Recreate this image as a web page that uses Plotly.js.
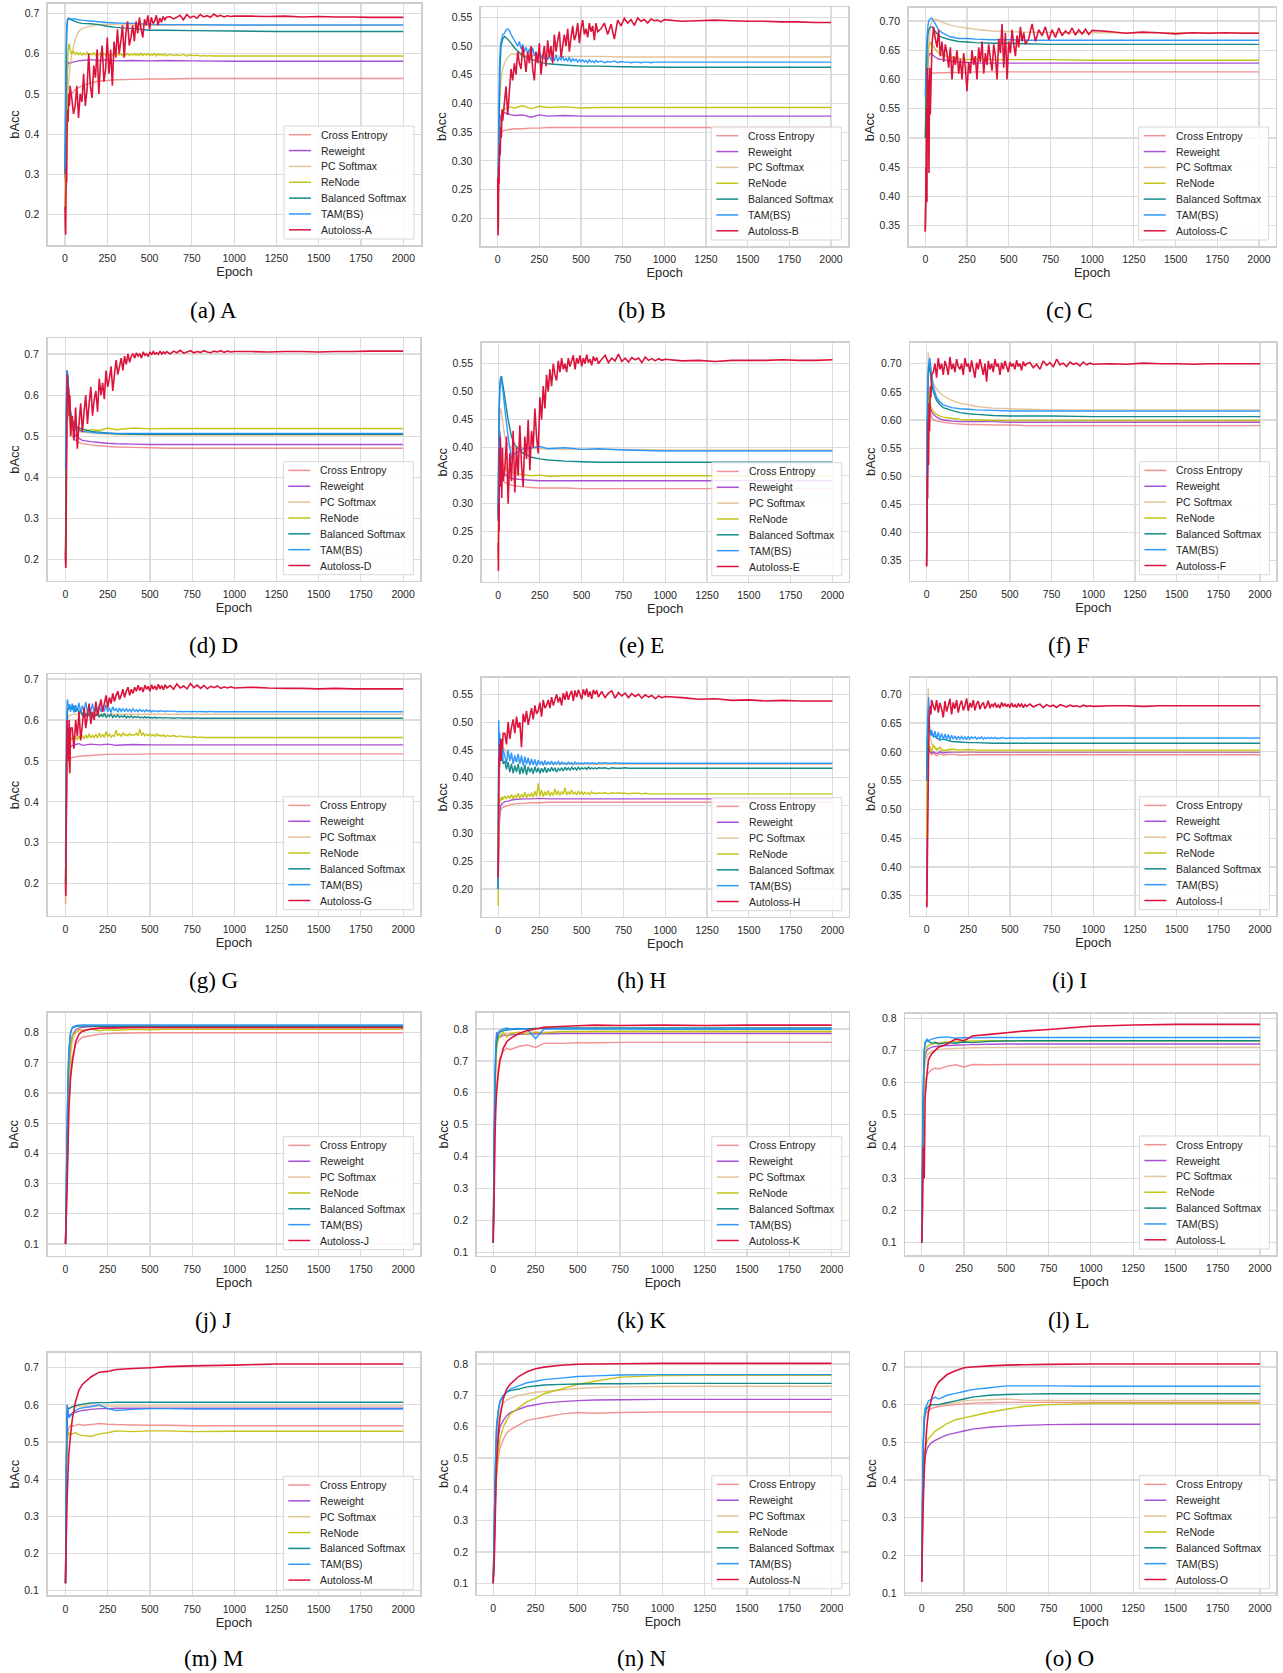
<!DOCTYPE html>
<html><head><meta charset="utf-8">
<script src="https://cdn.plot.ly/plotly-3.0.1.min.js"></script>
<style>html,body{margin:0;padding:0;background:#fff;}#chart{width:1283px;height:1673px;}</style>
</head><body><div id="chart"></div>
<script>
// ---------------- DATA ----------------
const epochs = [0,5,10,15,20,30,40,60,80,100,150,200,250,300,400,500,600,750,1000,1250,1500,2000];
const epochsDense = [0,2,4,6,8,10,12,15,18,22,26,30,
 40,50,60,70,80,90,100,110,120,130,140,150,160,170,180,190,200,210,220,230,240,250,260,270,280,290,300,
 310,320,330,340,350,360,370,380,390,400,410,420,430,440,450,460,470,480,490,500,510,520,530,540,550,560,570,580,590,600,
 620,640,660,680,700,720,740,760,780,800,820,840,860,880,900,920,940,960,980,1000,
 1100,1200,1300,1400,1500,1600,1700,1800,1900,2000];
const seriesNames = ['Cross Entropy','Reweight','PC Softmax','ReNode','Balanced Softmax','TAM(BS)'];
const panelLetters = ['A','B','C','D','E','F','G','H','I','J','K','L','M','N','O'];
const captions = ['(a) A','(b) B','(c) C','(d) D','(e) E','(f) F','(g) G','(h) H','(i) I','(j) J','(k) K','(l) L','(m) M','(n) N','(o) O'];
const xTickVals = [0,250,500,750,1000,1250,1500,1750,2000];
const yTicks2to7 = [0.2,0.3,0.4,0.5,0.6,0.7];
const yTicks20to55 = [0.20,0.25,0.30,0.35,0.40,0.45,0.50,0.55];
const yTicks35to70 = [0.35,0.40,0.45,0.50,0.55,0.60,0.65,0.70];
const yTicks1to8 = [0.1,0.2,0.3,0.4,0.5,0.6,0.7,0.8];
const yTicks1to7 = [0.1,0.2,0.3,0.4,0.5,0.6,0.7];

// Panel A
const A_ce = [0.22,0.28,0.38,0.44,0.47,0.49,0.50,0.51,0.515,0.52,0.527,0.532,0.533,0.535,0.536,0.537,0.537,0.538,0.538,0.538,0.538,0.538];
const A_rw = [0.29,0.40,0.52,0.57,0.578,0.575,0.578,0.58,0.582,0.583,0.585,0.583,0.584,0.582,0.583,0.582,0.583,0.582,0.581,0.581,0.581,0.581];
const A_pc = [0.28,0.35,0.42,0.48,0.52,0.57,0.60,0.635,0.655,0.662,0.668,0.672,0.673,0.672,0.671,0.67,0.67,0.67,0.67,0.67,0.67,0.67];
const A_rn = [0.22,0.25,0.30,0.35,0.42,0.45,0.52,0.58,0.60,0.62,0.625,0.61,
 0.60,0.605,0.598,0.603,0.597,0.602,0.596,0.601,0.597,0.603,0.596,0.60,0.597,0.602,0.596,0.60,0.597,0.601,0.595,0.60,0.596,0.602,0.595,0.599,0.596,0.601,0.595,
 0.60,0.596,0.599,0.595,0.601,0.596,0.60,0.595,0.599,0.596,0.60,0.595,0.599,0.596,0.601,0.595,0.599,0.596,0.60,0.595,0.598,0.596,0.60,0.594,0.599,0.596,0.598,0.595,0.599,0.595,
 0.598,0.595,0.597,0.595,0.598,0.594,0.597,0.595,0.596,0.594,0.595,0.594,0.595,0.594,0.594,0.594,0.594,0.594,0.594,0.594,
 0.594,0.594,0.594,0.594,0.594,0.594,0.594,0.594,0.594,0.594];
const A_bs = [0.30,0.50,0.65,0.685,0.688,0.686,0.683,0.68,0.677,0.675,0.674,0.672,0.668,0.665,0.662,0.658,0.658,0.657,0.656,0.655,0.655,0.655];
const A_tam = [0.31,0.55,0.67,0.682,0.685,0.686,0.686,0.686,0.684,0.683,0.681,0.679,0.677,0.676,0.675,0.673,0.672,0.672,0.671,0.671,0.671,0.671];
const A_al = [0.22,0.17,0.15,0.25,0.32,0.28,0.40,0.46,0.43,0.50,0.47,0.52,
 0.49,0.45,0.47,0.52,0.44,0.50,0.48,
 0.55,0.47,0.51,0.60,0.52,0.49,0.57,0.54,0.61,0.50,
 0.58,0.62,0.53,0.56,0.64,0.55,0.61,0.52,0.63,0.59,
 0.66,0.60,0.63,0.67,0.59,0.65,0.68,0.62,0.64,0.67,
 0.63,0.68,0.65,0.69,0.66,0.64,0.685,0.67,0.695,0.66,
 0.69,0.675,0.68,0.695,0.67,0.688,0.678,0.692,0.684,0.69,
 0.692,0.686,0.69,0.695,0.684,0.697,0.689,0.693,0.688,0.697,0.691,0.694,0.69,0.698,0.692,0.695,0.691,0.694,0.692,0.693,
 0.693,0.692,0.693,0.691,0.692,0.691,0.691,0.690,0.690,0.690];

// Panel B
const B_ce = [0.18,0.25,0.32,0.345,0.35,0.352,0.353,0.354,0.355,0.356,0.356,0.357,0.357,0.358,0.358,0.358,0.358,0.358,0.358,0.358,0.358,0.358];
const B_rw = [0.20,0.28,0.34,0.37,0.38,0.383,0.384,0.382,0.38,0.379,0.38,0.376,0.38,0.378,0.379,0.378,0.378,0.378,0.378,0.378,0.378,0.378];
const B_pc = [0.20,0.30,0.38,0.42,0.44,0.46,0.47,0.48,0.486,0.486,0.484,0.483,0.483,0.483,0.482,0.482,0.482,0.481,0.481,0.481,0.481,0.481];
const B_rn = [0.19,0.26,0.30,0.33,0.36,0.385,0.39,0.392,0.394,0.392,0.396,0.391,0.395,0.393,0.394,0.392,0.393,0.393,0.393,0.393,0.393,0.393];
const B_bs = [0.20,0.30,0.40,0.47,0.50,0.512,0.517,0.512,0.505,0.497,0.483,0.477,0.472,0.469,0.467,0.465,0.465,0.464,0.463,0.463,0.463,0.463];
const B_tam = [0.20,0.25,0.30,0.36,0.42,0.46,0.48,0.495,0.505,0.51,0.515,0.52,
 0.522,0.528,0.53,0.527,0.52,0.515,0.51,0.505,0.50,0.508,0.495,0.503,0.49,0.498,0.487,0.495,0.485,0.497,0.483,0.49,0.48,0.488,0.478,0.486,0.477,0.484,0.476,
 0.483,0.475,0.481,0.474,0.485,0.473,0.48,0.476,0.482,0.474,0.479,0.473,0.481,0.472,0.478,0.474,0.477,0.472,0.476,0.473,0.476,0.472,0.475,0.471,0.476,0.472,0.474,0.471,0.475,0.472,
 0.474,0.471,0.473,0.472,0.474,0.471,0.473,0.472,0.472,0.471,0.472,0.472,0.471,0.472,0.472,0.471,0.472,0.472,0.472,0.472,
 0.472,0.472,0.472,0.472,0.472,0.472,0.472,0.472,0.472,0.472];
const B_al = [0.27,0.17,0.19,0.29,0.26,0.30,0.33,0.31,0.36,0.34,0.39,0.37,
 0.40,0.43,0.38,0.42,0.46,0.44,0.47,
 0.45,0.49,0.47,0.46,0.50,0.48,0.455,0.49,0.47,0.50,
 0.46,0.44,0.49,0.47,0.505,0.45,0.48,0.50,0.465,0.51,
 0.48,0.50,0.47,0.52,0.49,0.51,0.525,0.48,0.50,0.52,
 0.50,0.53,0.49,0.515,0.535,0.51,0.52,0.54,0.505,0.53,
 0.545,0.52,0.53,0.515,0.54,0.525,0.535,0.51,0.54,0.525,
 0.53,0.54,0.52,0.538,0.512,0.545,0.535,0.548,0.54,0.546,0.536,0.549,0.543,0.546,0.54,0.547,0.544,0.545,0.542,0.546,
 0.543,0.544,0.545,0.544,0.543,0.543,0.542,0.542,0.541,0.541];

// Panel C
const C_ce = [0.34,0.45,0.55,0.59,0.605,0.61,0.611,0.611,0.612,0.611,0.612,0.612,0.612,0.613,0.613,0.613,0.613,0.613,0.613,0.613,0.613,0.613];
const C_rw = [0.34,0.45,0.56,0.62,0.64,0.645,0.643,0.638,0.635,0.634,0.632,0.63,0.629,0.628,0.628,0.628,0.628,0.628,0.628,0.628,0.628,0.628];
const C_pc = [0.34,0.45,0.55,0.62,0.66,0.69,0.70,0.703,0.701,0.698,0.693,0.69,0.688,0.686,0.683,0.682,0.681,0.68,0.68,0.68,0.68,0.68];
const C_rn = [0.50,0.55,0.60,0.64,0.655,0.663,0.66,0.652,0.645,0.642,0.638,0.636,0.634,0.635,0.634,0.634,0.634,0.634,0.633,0.633,0.633,0.633];
const C_bs = [0.50,0.60,0.65,0.675,0.685,0.69,0.69,0.682,0.675,0.672,0.668,0.665,0.664,0.663,0.662,0.662,0.661,0.66,0.66,0.66,0.66,0.66];
const C_tam = [0.57,0.64,0.67,0.69,0.70,0.704,0.705,0.695,0.685,0.68,0.673,0.67,0.67,0.669,0.668,0.668,0.667,0.667,0.667,0.667,0.667,0.667];
const C_al = [0.34,0.38,0.45,0.40,0.55,0.39,0.62,0.50,0.60,0.44,0.62,0.54,
 0.66,0.69,0.67,0.655,0.685,0.64,0.665,
 0.63,0.66,0.645,0.62,0.655,0.60,0.64,0.625,0.65,0.61,
 0.635,0.60,0.645,0.62,0.58,0.63,0.61,0.65,0.625,0.64,
 0.60,0.655,0.63,0.665,0.61,0.645,0.625,0.66,0.635,0.615,
 0.66,0.64,0.60,0.67,0.645,0.695,0.62,0.68,0.60,0.665,
 0.645,0.685,0.66,0.64,0.675,0.655,0.69,0.665,0.68,0.66,
 0.67,0.695,0.665,0.685,0.675,0.69,0.668,0.685,0.672,0.688,0.675,0.683,0.678,0.688,0.676,0.685,0.678,0.686,0.677,0.684,
 0.682,0.679,0.681,0.68,0.678,0.68,0.679,0.68,0.679,0.679];

// Panel D
const D_ce = [0.18,0.42,0.66,0.60,0.55,0.52,0.50,0.49,0.485,0.482,0.479,0.477,0.475,0.474,0.473,0.472,0.471,0.471,0.471,0.471,0.471,0.471];
const D_rw = [0.19,0.45,0.66,0.62,0.58,0.54,0.52,0.50,0.495,0.49,0.487,0.485,0.483,0.482,0.481,0.48,0.48,0.48,0.48,0.48,0.48,0.48];
const D_pc = [0.20,0.45,0.64,0.62,0.58,0.54,0.52,0.515,0.512,0.51,0.508,0.506,0.505,0.504,0.504,0.503,0.503,0.503,0.503,0.503,0.503,0.503];
const D_rn = [0.22,0.50,0.64,0.60,0.56,0.53,0.52,0.515,0.518,0.512,0.516,0.514,0.52,0.516,0.52,0.518,0.519,0.519,0.519,0.519,0.519,0.519];
const D_bs = [0.20,0.55,0.66,0.63,0.60,0.56,0.54,0.525,0.52,0.518,0.512,0.51,0.508,0.506,0.505,0.505,0.505,0.505,0.505,0.505,0.505,0.505];
const D_tam = [0.42,0.60,0.66,0.64,0.60,0.56,0.535,0.52,0.515,0.512,0.51,0.508,0.507,0.507,0.507,0.507,0.507,0.507,0.507,0.507,0.507,0.507];
const D_al = [0.22,0.18,0.30,0.42,0.50,0.60,0.65,0.58,0.62,0.55,0.60,0.50,
 0.55,0.49,0.57,0.47,0.53,0.58,0.51,
 0.56,0.60,0.53,0.58,0.62,0.55,0.59,0.61,0.56,0.64,
 0.60,0.63,0.59,0.66,0.62,0.64,0.67,0.61,0.65,0.685,
 0.65,0.67,0.69,0.66,0.695,0.675,0.70,0.68,0.695,0.70,
 0.69,0.703,0.695,0.70,0.69,0.705,0.697,0.70,0.694,0.705,
 0.698,0.706,0.70,0.703,0.699,0.707,0.70,0.705,0.701,0.706,
 0.70,0.707,0.703,0.709,0.702,0.705,0.708,0.703,0.706,0.704,0.708,0.705,0.703,0.707,0.705,0.708,0.704,0.707,0.705,0.706,
 0.706,0.705,0.706,0.706,0.705,0.706,0.706,0.707,0.707,0.707];

// Panel E
const E_ce = [0.27,0.35,0.42,0.40,0.37,0.345,0.338,0.335,0.333,0.332,0.33,0.329,0.328,0.328,0.328,0.327,0.327,0.327,0.327,0.327,0.327,0.327];
const E_rw = [0.27,0.36,0.43,0.41,0.38,0.36,0.352,0.348,0.345,0.344,0.343,0.342,0.341,0.341,0.341,0.341,0.341,0.341,0.341,0.341,0.341,0.341];
const E_pc = [0.27,0.40,0.46,0.47,0.465,0.44,0.42,0.405,0.40,0.40,0.40,0.399,0.398,0.398,0.397,0.397,0.397,0.397,0.396,0.396,0.396,0.396];
const E_rn = [0.20,0.35,0.40,0.39,0.38,0.37,0.365,0.36,0.357,0.355,0.352,0.35,0.351,0.349,0.35,0.35,0.35,0.35,0.35,0.35,0.35,0.35];
const E_bs = [0.28,0.45,0.51,0.525,0.528,0.51,0.49,0.45,0.42,0.405,0.39,0.383,0.38,0.378,0.376,0.375,0.374,0.374,0.374,0.374,0.374,0.374];
const E_tam = [0.27,0.45,0.50,0.525,0.52,0.50,0.47,0.42,0.38,0.39,0.398,0.40,0.402,0.398,0.40,0.397,0.398,0.396,0.394,0.394,0.394,0.394];
const E_al = [0.23,0.18,0.30,0.25,0.40,0.35,0.42,0.33,0.38,0.31,0.40,0.34,
 0.36,0.42,0.30,0.39,0.34,0.43,0.32,
 0.40,0.35,0.44,0.37,0.33,0.42,0.38,0.45,0.36,0.43,
 0.40,0.47,0.42,0.39,0.49,0.45,0.51,0.47,0.53,0.50,
 0.54,0.51,0.55,0.53,0.52,0.555,0.535,0.56,0.54,0.55,
 0.535,0.56,0.545,0.555,0.565,0.54,0.56,0.55,0.565,0.545,
 0.56,0.55,0.566,0.552,0.558,0.547,0.563,0.555,0.561,0.55,
 0.558,0.565,0.552,0.56,0.555,0.567,0.554,0.56,0.553,0.561,0.557,0.56,0.552,0.562,0.556,0.559,0.555,0.559,0.556,0.558,
 0.555,0.556,0.554,0.556,0.556,0.556,0.557,0.556,0.556,0.557];

// Panel F
const F_ce = [0.34,0.50,0.60,0.62,0.615,0.605,0.60,0.598,0.597,0.596,0.594,0.593,0.592,0.592,0.591,0.591,0.59,0.59,0.59,0.59,0.59,0.59];
const F_rw = [0.34,0.52,0.62,0.63,0.625,0.615,0.61,0.605,0.602,0.60,0.598,0.597,0.597,0.597,0.597,0.596,0.596,0.596,0.596,0.596,0.596,0.596];
const F_pc = [0.34,0.60,0.72,0.70,0.69,0.675,0.665,0.655,0.648,0.643,0.635,0.63,0.627,0.624,0.621,0.62,0.619,0.618,0.618,0.618,0.618,0.618];
const F_rn = [0.50,0.60,0.65,0.64,0.63,0.62,0.615,0.61,0.607,0.605,0.603,0.601,0.60,0.60,0.599,0.599,0.599,0.599,0.599,0.599,0.599,0.599];
const F_bs = [0.35,0.60,0.68,0.70,0.69,0.665,0.65,0.635,0.627,0.622,0.617,0.613,0.611,0.61,0.608,0.607,0.607,0.607,0.606,0.606,0.606,0.606];
const F_tam = [0.50,0.65,0.69,0.705,0.71,0.68,0.66,0.64,0.632,0.627,0.622,0.62,0.619,0.618,0.617,0.616,0.616,0.616,0.616,0.616,0.616,0.616];
const F_al = [0.34,0.40,0.50,0.46,0.55,0.60,0.52,0.63,0.58,0.66,0.64,0.68,
 0.685,0.70,0.675,0.71,0.69,0.70,0.68,
 0.705,0.695,0.68,0.712,0.69,0.70,0.685,0.708,0.695,0.69,
 0.70,0.68,0.71,0.695,0.70,0.685,0.706,0.69,0.675,0.702,
 0.69,0.708,0.695,0.68,0.70,0.668,0.705,0.69,0.70,0.685,
 0.708,0.695,0.70,0.68,0.702,0.69,0.705,0.695,0.685,0.703,
 0.695,0.70,0.69,0.706,0.695,0.70,0.688,0.704,0.696,0.70,
 0.702,0.693,0.699,0.69,0.705,0.697,0.702,0.694,0.708,0.698,0.701,0.695,0.703,0.699,0.701,0.696,0.703,0.698,0.701,0.699,
 0.70,0.699,0.701,0.70,0.70,0.699,0.70,0.70,0.70,0.70];

// Panel G
const G_ce = [0.15,0.35,0.46,0.49,0.50,0.505,0.508,0.51,0.511,0.512,0.513,0.515,0.516,0.516,0.516,0.517,0.517,0.517,0.517,0.517,0.517,0.517];
const G_rw = [0.20,0.40,0.50,0.525,0.53,0.535,0.537,0.54,0.542,0.538,0.541,0.539,0.541,0.538,0.54,0.539,0.539,0.539,0.539,0.539,0.539,0.539];
const G_pc = [0.15,0.40,0.55,0.60,0.61,0.612,0.613,0.614,0.615,0.615,0.614,0.614,0.614,0.614,0.614,0.614,0.614,0.614,0.614,0.614,0.614,0.614];
const G_rn = [0.20,0.28,0.35,0.42,0.48,0.52,0.54,0.545,0.55,0.548,0.553,0.55,
 0.556,0.55,0.558,0.552,0.56,0.553,0.562,0.554,0.563,0.555,0.566,0.556,0.562,0.557,0.565,0.556,0.568,0.558,0.565,0.557,0.572,0.559,0.566,0.558,0.563,0.56,0.575,
 0.561,0.566,0.56,0.568,0.562,0.565,0.561,0.567,0.562,0.564,0.563,0.567,0.561,0.578,0.562,0.568,0.561,0.565,0.562,0.566,0.561,0.564,0.56,0.566,0.561,0.563,0.56,0.564,0.559,0.562,
 0.56,0.562,0.559,0.561,0.558,0.56,0.557,0.559,0.557,0.558,0.557,0.557,0.557,0.557,0.557,0.557,0.557,0.557,0.557,0.557,
 0.557,0.557,0.557,0.557,0.557,0.557,0.557,0.557,0.557,0.557];
const G_bs = [0.20,0.30,0.40,0.50,0.56,0.60,0.62,0.63,0.625,0.635,0.628,0.632,
 0.625,0.635,0.62,0.63,0.615,0.625,0.61,0.622,0.608,0.618,0.61,0.62,0.607,0.616,0.609,0.618,0.606,0.614,0.607,0.616,0.606,0.612,0.608,0.615,0.606,0.611,0.607,
 0.612,0.606,0.61,0.607,0.611,0.605,0.609,0.606,0.61,0.605,0.608,0.606,0.609,0.605,0.607,0.605,0.608,0.605,0.607,0.605,0.606,0.605,0.607,0.604,0.606,0.605,0.606,0.604,0.606,0.605,
 0.605,0.604,0.605,0.605,0.604,0.605,0.604,0.604,0.605,0.604,0.604,0.604,0.604,0.604,0.604,0.604,0.604,0.604,0.604,0.604,
 0.604,0.604,0.604,0.604,0.604,0.604,0.604,0.604,0.604,0.604];
const G_tam = [0.25,0.40,0.50,0.58,0.62,0.645,0.65,0.635,0.64,0.625,0.638,0.62,
 0.64,0.618,0.636,0.622,0.642,0.617,0.635,0.62,0.644,0.618,0.632,0.621,0.64,0.617,0.635,0.622,0.638,0.619,0.633,0.621,0.637,0.62,0.63,0.618,0.632,0.622,0.628,
 0.619,0.629,0.621,0.627,0.62,0.628,0.621,0.626,0.62,0.627,0.621,0.625,0.62,0.626,0.621,0.624,0.62,0.625,0.621,0.624,0.62,0.623,0.621,0.622,0.62,0.623,0.621,0.622,0.62,0.622,
 0.621,0.622,0.62,0.621,0.62,0.621,0.62,0.621,0.62,0.621,0.62,0.62,0.621,0.62,0.62,0.62,0.62,0.62,0.62,0.62,
 0.62,0.62,0.62,0.62,0.62,0.62,0.62,0.62,0.62,0.62];
const G_al = [0.20,0.17,0.30,0.45,0.55,0.60,0.52,0.58,0.50,0.60,0.47,0.58,
 0.58,0.53,0.60,0.56,0.62,0.55,0.59,
 0.63,0.58,0.61,0.64,0.59,0.62,0.60,0.645,0.61,0.63,
 0.65,0.62,0.64,0.66,0.63,0.655,0.64,0.665,0.645,0.66,
 0.67,0.65,0.66,0.675,0.655,0.67,0.68,0.66,0.675,0.665,
 0.68,0.67,0.685,0.672,0.68,0.668,0.685,0.675,0.682,0.67,
 0.686,0.675,0.683,0.673,0.687,0.676,0.684,0.674,0.686,0.678,
 0.684,0.675,0.688,0.678,0.683,0.676,0.689,0.679,0.685,0.677,0.684,0.676,0.682,0.679,0.683,0.677,0.681,0.678,0.681,0.678,
 0.68,0.678,0.677,0.677,0.676,0.677,0.676,0.676,0.676,0.676];

// Panel H
const H_ce = [0.20,0.30,0.33,0.34,0.345,0.347,0.348,0.35,0.352,0.353,0.354,0.355,0.355,0.356,0.356,0.356,0.356,0.356,0.356,0.356,0.356,0.356];
const H_rw = [0.20,0.30,0.34,0.35,0.352,0.355,0.357,0.358,0.36,0.361,0.362,0.362,0.363,0.362,0.362,0.362,0.362,0.362,0.362,0.362,0.362,0.362];
const H_pc = [0.20,0.35,0.42,0.45,0.46,0.455,0.45,0.44,0.435,0.43,0.43,0.427,0.425,0.425,0.424,0.424,0.424,0.424,0.424,0.424,0.424,0.424];
const H_rn = [0.17,0.25,0.32,0.35,0.36,0.355,0.362,0.358,0.365,0.36,0.366,0.361,
 0.367,0.362,0.368,0.363,0.37,0.362,0.369,0.364,0.372,0.363,0.37,0.365,0.374,0.364,0.371,0.366,0.373,0.365,0.376,0.366,0.39,0.367,0.378,0.366,0.375,0.368,0.377,
 0.367,0.374,0.368,0.38,0.369,0.376,0.368,0.375,0.37,0.382,0.369,0.375,0.37,0.378,0.37,0.374,0.369,0.376,0.371,0.375,0.37,0.374,0.371,0.373,0.37,0.375,0.371,0.373,0.371,0.373,
 0.372,0.373,0.371,0.373,0.372,0.373,0.372,0.372,0.371,0.372,0.372,0.372,0.371,0.372,0.371,0.371,0.371,0.371,0.371,0.371,
 0.371,0.371,0.371,0.371,0.371,0.371,0.371,0.371,0.371,0.371];
const H_bs = [0.20,0.35,0.46,0.48,0.47,0.46,0.45,0.44,0.445,0.43,0.44,0.425,
 0.43,0.415,0.428,0.41,0.425,0.408,0.422,0.41,0.425,0.406,0.42,0.408,0.423,0.405,0.42,0.41,0.418,0.407,0.42,0.41,0.418,0.408,0.417,0.41,0.419,0.409,0.417,
 0.411,0.419,0.412,0.418,0.41,0.417,0.413,0.418,0.412,0.419,0.414,0.418,0.413,0.419,0.415,0.418,0.414,0.419,0.415,0.418,0.416,0.418,0.415,0.419,0.416,0.418,0.416,0.418,0.416,0.418,
 0.417,0.418,0.416,0.418,0.417,0.417,0.417,0.418,0.417,0.417,0.417,0.417,0.417,0.417,0.417,0.417,0.417,0.417,0.417,0.417,
 0.417,0.417,0.417,0.417,0.417,0.417,0.417,0.417,0.417,0.417];
const H_tam = [0.20,0.35,0.504,0.47,0.45,0.48,0.44,0.46,0.435,0.455,0.43,0.45,
 0.44,0.425,0.45,0.43,0.445,0.425,0.44,0.428,0.443,0.425,0.44,0.422,0.438,0.424,0.436,0.422,0.434,0.423,0.433,0.421,0.432,0.424,0.43,0.422,0.431,0.423,0.429,
 0.424,0.43,0.423,0.428,0.425,0.429,0.424,0.428,0.425,0.427,0.424,0.428,0.425,0.427,0.424,0.428,0.425,0.427,0.425,0.427,0.425,0.427,0.426,0.427,0.425,0.427,0.426,0.426,0.425,0.427,
 0.426,0.427,0.426,0.426,0.427,0.426,0.426,0.426,0.426,0.426,0.426,0.426,0.426,0.426,0.426,0.426,0.426,0.426,0.426,0.426,
 0.426,0.426,0.426,0.426,0.426,0.426,0.426,0.426,0.426,0.426];
const H_al = [0.22,0.30,0.38,0.44,0.42,0.46,0.44,0.47,0.43,0.47,0.45,0.48,
 0.48,0.46,0.50,0.47,0.49,0.505,0.48,
 0.51,0.49,0.50,0.455,0.515,0.50,0.52,0.495,0.51,0.525,
 0.505,0.53,0.515,0.52,0.535,0.51,0.54,0.525,0.53,0.54,
 0.525,0.545,0.53,0.54,0.55,0.535,0.545,0.53,0.552,0.54,
 0.555,0.54,0.55,0.556,0.538,0.557,0.545,0.558,0.55,0.541,
 0.559,0.548,0.56,0.545,0.555,0.542,0.558,0.55,0.557,0.545,
 0.555,0.544,0.552,0.556,0.543,0.553,0.547,0.552,0.544,0.551,0.546,0.55,0.543,0.549,0.545,0.548,0.542,0.547,0.544,0.546,
 0.544,0.541,0.542,0.539,0.54,0.538,0.539,0.538,0.538,0.538];

// Panel I
const I_ce = [0.33,0.50,0.60,0.605,0.60,0.595,0.598,0.593,0.597,0.594,0.596,0.594,0.595,0.595,0.595,0.595,0.595,0.595,0.595,0.595,0.595,0.595];
const I_rw = [0.35,0.50,0.60,0.605,0.60,0.598,0.60,0.597,0.60,0.598,0.60,0.599,0.60,0.599,0.599,0.599,0.599,0.599,0.599,0.599,0.599,0.599];
const I_pc = [0.45,0.60,0.71,0.66,0.63,0.615,0.61,0.605,0.603,0.602,0.601,0.60,0.60,0.60,0.60,0.60,0.60,0.60,0.60,0.60,0.60,0.60];
const I_rn = [0.45,0.55,0.62,0.605,0.61,0.60,0.612,0.603,0.608,0.602,0.605,0.603,0.604,0.603,0.603,0.603,0.603,0.603,0.603,0.603,0.603,0.603];
const I_bs = [0.55,0.62,0.66,0.64,0.635,0.63,0.628,0.625,0.62,0.622,0.618,0.617,0.616,0.616,0.615,0.615,0.615,0.615,0.615,0.615,0.615,0.615];
const I_tam = [0.55,0.60,0.64,0.66,0.67,0.68,0.695,0.66,0.64,0.635,0.628,0.638,
 0.625,0.636,0.623,0.634,0.622,0.632,0.621,0.631,0.622,0.63,0.621,0.629,0.622,0.628,0.621,0.627,0.622,0.627,0.622,0.626,0.621,0.627,0.622,0.626,0.623,0.626,0.622,
 0.625,0.623,0.626,0.622,0.625,0.623,0.625,0.623,0.625,0.623,0.625,0.623,0.624,0.623,0.625,0.624,0.624,0.623,0.624,0.624,0.624,0.623,0.624,0.624,0.623,0.624,0.624,0.624,0.623,0.624,
 0.624,0.624,0.624,0.624,0.624,0.624,0.624,0.624,0.624,0.624,0.624,0.624,0.624,0.624,0.624,0.624,0.624,0.624,0.624,0.624,
 0.624,0.624,0.624,0.624,0.624,0.624,0.624,0.624,0.624,0.624];
const I_al = [0.34,0.33,0.40,0.45,0.50,0.55,0.60,0.65,0.67,0.68,0.665,0.69,
 0.68,0.672,0.69,0.668,0.685,0.675,0.66,
 0.688,0.67,0.68,0.692,0.665,0.686,0.675,0.69,0.668,0.682,
 0.689,0.672,0.68,0.693,0.671,0.685,0.677,0.69,0.672,0.684,
 0.688,0.674,0.682,0.686,0.675,0.68,0.689,0.676,0.683,0.679,
 0.685,0.677,0.682,0.676,0.686,0.679,0.684,0.678,0.683,0.677,
 0.685,0.678,0.682,0.677,0.684,0.679,0.683,0.677,0.682,0.679,
 0.683,0.678,0.681,0.683,0.677,0.682,0.679,0.681,0.677,0.682,0.68,0.678,0.681,0.679,0.68,0.678,0.681,0.679,0.68,0.679,
 0.68,0.68,0.679,0.68,0.68,0.68,0.68,0.68,0.68,0.68];

// Panel J
const J_ce = [0.10,0.20,0.32,0.45,0.55,0.67,0.72,0.76,0.775,0.785,0.79,0.795,0.797,0.798,0.799,0.80,0.80,0.80,0.80,0.80,0.80,0.80];
const J_rw = [0.10,0.25,0.40,0.55,0.65,0.75,0.79,0.81,0.815,0.818,0.82,0.82,0.82,0.82,0.82,0.82,0.82,0.82,0.82,0.82,0.82,0.82];
const J_pc = [0.10,0.22,0.35,0.50,0.60,0.72,0.77,0.80,0.808,0.81,0.812,0.813,0.814,0.815,0.815,0.815,0.815,0.815,0.815,0.815,0.815,0.815];
const J_rn = [0.10,0.25,0.40,0.55,0.65,0.75,0.79,0.80,0.81,0.805,0.812,0.806,0.81,0.808,0.811,0.81,0.811,0.811,0.811,0.811,0.811,0.811];
const J_bs = [0.10,0.30,0.50,0.65,0.74,0.80,0.815,0.82,0.822,0.822,0.822,0.822,0.822,0.822,0.822,0.822,0.822,0.822,0.822,0.822,0.822,0.822];
const J_tam = [0.10,0.30,0.50,0.65,0.74,0.80,0.818,0.823,0.825,0.826,0.826,0.826,0.826,0.826,0.826,0.826,0.826,0.826,0.826,0.826,0.826,0.826];
const J_al = [0.10,0.20,0.30,0.42,0.55,0.65,0.70,0.77,0.795,0.805,0.812,0.815,0.816,0.816,0.817,0.817,0.817,0.817,0.817,0.817,0.817,0.817];

// Panel K
const K_ce = [0.13,0.30,0.45,0.55,0.62,0.68,0.71,0.73,0.74,0.735,0.745,0.75,0.742,0.755,0.755,0.757,0.757,0.758,0.758,0.758,0.758,0.758];
const K_rw = [0.13,0.40,0.60,0.72,0.79,0.77,0.775,0.78,0.78,0.782,0.783,0.784,0.785,0.785,0.786,0.786,0.786,0.786,0.786,0.786,0.786,0.786];
const K_pc = [0.13,0.35,0.55,0.68,0.74,0.77,0.78,0.785,0.787,0.788,0.789,0.79,0.79,0.79,0.79,0.79,0.79,0.79,0.79,0.79,0.79,0.79];
const K_rn = [0.13,0.35,0.55,0.68,0.74,0.77,0.78,0.79,0.775,0.785,0.79,0.783,0.79,0.787,0.792,0.792,0.793,0.793,0.793,0.793,0.793,0.793];
const K_bs = [0.13,0.40,0.60,0.72,0.76,0.785,0.79,0.795,0.797,0.798,0.80,0.801,0.802,0.802,0.803,0.803,0.803,0.803,0.803,0.803,0.803,0.803];
const K_tam = [0.13,0.45,0.65,0.75,0.78,0.79,0.795,0.80,0.803,0.80,0.802,0.80,0.77,0.80,0.80,0.80,0.80,0.80,0.799,0.799,0.799,0.799];
const K_al = [0.13,0.25,0.45,0.55,0.60,0.66,0.70,0.74,0.76,0.77,0.785,0.795,0.80,0.805,0.808,0.81,0.812,0.811,0.812,0.811,0.812,0.812];

// Panel L
const L_ce = [0.10,0.30,0.50,0.58,0.60,0.62,0.63,0.64,0.645,0.642,0.65,0.655,0.648,0.656,0.655,0.656,0.656,0.656,0.656,0.656,0.656,0.656];
const L_rw = [0.10,0.35,0.55,0.65,0.68,0.70,0.705,0.71,0.712,0.713,0.715,0.716,0.717,0.718,0.719,0.72,0.72,0.72,0.72,0.72,0.72,0.72];
const L_pc = [0.10,0.35,0.55,0.63,0.66,0.68,0.69,0.698,0.702,0.703,0.705,0.706,0.707,0.708,0.709,0.709,0.709,0.709,0.709,0.709,0.709,0.709];
const L_rn = [0.10,0.35,0.55,0.65,0.69,0.71,0.715,0.72,0.722,0.724,0.726,0.727,0.728,0.729,0.73,0.73,0.73,0.73,0.73,0.73,0.73,0.73];
const L_bs = [0.10,0.40,0.60,0.70,0.725,0.73,0.728,0.722,0.725,0.72,0.724,0.722,0.726,0.724,0.728,0.729,0.73,0.73,0.73,0.73,0.73,0.73];
const L_tam = [0.10,0.40,0.60,0.70,0.72,0.735,0.73,0.735,0.738,0.74,0.742,0.738,0.74,0.739,0.74,0.74,0.74,0.74,0.74,0.74,0.74,0.74];
const L_al = [0.10,0.20,0.40,0.30,0.55,0.62,0.67,0.69,0.70,0.71,0.72,0.735,0.73,0.745,0.75,0.755,0.76,0.765,0.775,0.779,0.781,0.781];

// Panel M
const M_ce = [0.12,0.35,0.50,0.53,0.54,0.545,0.543,0.545,0.548,0.545,0.547,0.55,0.548,0.547,0.546,0.545,0.545,0.544,0.544,0.544,0.544,0.544];
const M_rw = [0.12,0.40,0.60,0.58,0.57,0.575,0.578,0.58,0.583,0.585,0.588,0.59,0.59,0.591,0.591,0.591,0.591,0.591,0.591,0.591,0.591,0.591];
const M_pc = [0.12,0.40,0.58,0.59,0.592,0.594,0.595,0.596,0.597,0.597,0.597,0.597,0.597,0.597,0.597,0.597,0.597,0.597,0.597,0.597,0.597,0.597];
const M_rn = [0.12,0.35,0.50,0.52,0.525,0.52,0.522,0.525,0.52,0.518,0.515,0.522,0.525,0.53,0.528,0.53,0.53,0.528,0.529,0.529,0.529,0.529];
const M_bs = [0.12,0.45,0.58,0.59,0.59,0.592,0.595,0.598,0.60,0.602,0.605,0.606,0.606,0.607,0.607,0.607,0.607,0.607,0.607,0.607,0.607,0.607];
const M_tam = [0.12,0.45,0.60,0.58,0.565,0.57,0.575,0.585,0.59,0.592,0.595,0.60,0.59,0.585,0.588,0.59,0.59,0.589,0.589,0.589,0.589,0.589];
const M_al = [0.12,0.25,0.35,0.42,0.47,0.52,0.56,0.61,0.64,0.655,0.675,0.688,0.69,0.695,0.698,0.70,0.703,0.705,0.707,0.71,0.71,0.71];

// Panel N
const N_ce = [0.10,0.20,0.30,0.40,0.45,0.50,0.53,0.56,0.58,0.59,0.605,0.62,0.625,0.63,0.64,0.645,0.643,0.645,0.647,0.647,0.647,0.647];
const N_rw = [0.10,0.20,0.30,0.42,0.50,0.56,0.60,0.62,0.635,0.645,0.655,0.665,0.67,0.675,0.68,0.683,0.685,0.686,0.687,0.687,0.687,0.687];
const N_pc = [0.10,0.25,0.40,0.50,0.57,0.62,0.65,0.675,0.685,0.69,0.70,0.705,0.71,0.712,0.717,0.722,0.725,0.727,0.728,0.729,0.729,0.729];
const N_rn = [0.10,0.20,0.30,0.40,0.45,0.52,0.56,0.60,0.62,0.64,0.66,0.68,0.69,0.705,0.72,0.735,0.745,0.758,0.763,0.764,0.764,0.764];
const N_bs = [0.10,0.25,0.40,0.52,0.60,0.65,0.68,0.70,0.71,0.715,0.72,0.727,0.73,0.733,0.735,0.736,0.737,0.737,0.738,0.738,0.738,0.738];
const N_tam = [0.10,0.25,0.40,0.52,0.60,0.65,0.68,0.70,0.71,0.72,0.73,0.74,0.745,0.75,0.755,0.76,0.762,0.765,0.766,0.766,0.766,0.766];
const N_al = [0.10,0.15,0.25,0.38,0.48,0.58,0.63,0.69,0.72,0.735,0.76,0.775,0.785,0.79,0.796,0.799,0.80,0.801,0.802,0.802,0.802,0.802];

// Panel O
const O_ce = [0.13,0.35,0.50,0.55,0.57,0.58,0.585,0.59,0.593,0.595,0.598,0.60,0.602,0.604,0.605,0.606,0.606,0.606,0.606,0.606,0.606,0.606];
const O_rw = [0.13,0.30,0.40,0.44,0.46,0.48,0.49,0.50,0.505,0.51,0.52,0.525,0.53,0.535,0.54,0.543,0.545,0.547,0.548,0.548,0.548,0.548];
const O_pc = [0.13,0.35,0.50,0.55,0.58,0.60,0.60,0.60,0.60,0.60,0.603,0.605,0.61,0.612,0.613,0.615,0.612,0.611,0.611,0.611,0.611,0.611];
const O_rn = [0.13,0.30,0.42,0.46,0.48,0.50,0.51,0.52,0.53,0.535,0.55,0.56,0.565,0.57,0.58,0.588,0.595,0.60,0.603,0.603,0.603,0.603];
const O_bs = [0.13,0.35,0.50,0.56,0.58,0.59,0.595,0.60,0.60,0.60,0.605,0.61,0.615,0.62,0.625,0.627,0.628,0.629,0.629,0.629,0.629,0.629];
const O_tam = [0.13,0.40,0.52,0.57,0.59,0.60,0.61,0.615,0.62,0.615,0.625,0.63,0.635,0.64,0.645,0.65,0.65,0.65,0.649,0.649,0.649,0.649];
const O_al = [0.13,0.25,0.35,0.42,0.47,0.54,0.58,0.62,0.645,0.66,0.68,0.69,0.698,0.70,0.703,0.705,0.706,0.707,0.708,0.708,0.708,0.708];

// ---------------- ASSEMBLY ----------------
const SERIES = {
  A:[A_ce,A_rw,A_pc,A_rn,A_bs,A_tam,A_al], B:[B_ce,B_rw,B_pc,B_rn,B_bs,B_tam,B_al], C:[C_ce,C_rw,C_pc,C_rn,C_bs,C_tam,C_al],
  D:[D_ce,D_rw,D_pc,D_rn,D_bs,D_tam,D_al], E:[E_ce,E_rw,E_pc,E_rn,E_bs,E_tam,E_al], F:[F_ce,F_rw,F_pc,F_rn,F_bs,F_tam,F_al],
  G:[G_ce,G_rw,G_pc,G_rn,G_bs,G_tam,G_al], H:[H_ce,H_rw,H_pc,H_rn,H_bs,H_tam,H_al], I:[I_ce,I_rw,I_pc,I_rn,I_bs,I_tam,I_al],
  J:[J_ce,J_rw,J_pc,J_rn,J_bs,J_tam,J_al], K:[K_ce,K_rw,K_pc,K_rn,K_bs,K_tam,K_al], L:[L_ce,L_rw,L_pc,L_rn,L_bs,L_tam,L_al],
  M:[M_ce,M_rw,M_pc,M_rn,M_bs,M_tam,M_al], N:[N_ce,N_rw,N_pc,N_rn,N_bs,N_tam,N_al], O:[O_ce,O_rw,O_pc,O_rn,O_bs,O_tam,O_al]
};
const Y_TICKS = {A:yTicks2to7,B:yTicks20to55,C:yTicks35to70,D:yTicks2to7,E:yTicks20to55,F:yTicks35to70,
  G:yTicks2to7,H:yTicks20to55,I:yTicks35to70,J:yTicks1to8,K:yTicks1to8,L:yTicks1to8,M:yTicks1to7,N:yTicks1to8,O:yTicks1to7};
const Y_FMT = {A:'.1f',B:'.2f',C:'.2f',D:'.1f',E:'.2f',F:'.2f',G:'.1f',H:'.2f',I:'.2f',J:'.1f',K:'.1f',L:'.1f',M:'.1f',N:'.1f',O:'.1f'};

// geometry in pixels: [left, right, top, bottom, tickA_px, tickA_val, tickB_px, tickB_val, x0_px, x2000_px]
const GEOM = {
  A:[48,421,4,245, 13.3,0.7,214.7,0.2, 65,403.3],
  B:[481,848.3,7.3,246, 17.3,0.55,218.3,0.20, 497.7,831],
  C:[908.7,1275.7,8,246, 21,0.70,225.7,0.35, 925.3,1259],
  D:[47.5,420.3,338.3,580.7, 354,0.7,559.7,0.2, 65.5,403.1],
  E:[481.7,848.8,342.7,581.7, 363.7,0.55,559.7,0.20, 498.1,832.4],
  F:[910.2,1276.4,342.7,580.7, 363.7,0.70,560.7,0.35, 926.6,1260],
  G:[47.5,420.3,674.3,915.7, 679,0.7,883.7,0.2, 65.5,403.1],
  H:[481.7,848.8,677.7,916.7, 694.3,0.55,889,0.20, 498.1,832.4],
  I:[910.2,1276.4,677.7,915.7, 694.3,0.70,895.7,0.35, 926.6,1260],
  J:[47.5,420.3,1012.7,1255.7, 1032.7,0.8,1244,0.1, 65.5,403.1],
  K:[476.8,848.8,1012.7,1255.7, 1029,0.8,1252.3,0.1, 493.2,831.6],
  L:[905.3,1276.4,1014,1255, 1018.3,0.8,1242.7,0.1, 921.7,1260],
  M:[47.5,420.3,1353,1595.3, 1367.7,0.7,1590.7,0.1, 65.5,403.1],
  N:[476.8,848.8,1353,1594.7, 1364,0.8,1583.3,0.1, 493.2,831.6],
  O:[905.3,1276.4,1352.3,1594.7, 1367,0.7,1593,0.1, 921.7,1260]
};
const CAPTION_X = [213,641.5,1069];
const CAPTION_Y = [310,645,980,1320,1658];

const W = 1283, H = 1673;
const FONT = 'Liberation Sans, Arial, Helvetica, sans-serif';
const SERIF = 'Liberation Serif, Times New Roman, serif';
const TXT = '#262626';
const COLORS = ['rgba(240,128,128,0.85)','rgba(153,50,204,0.85)','rgba(222,184,135,0.85)','rgba(191,191,0,0.9)',
                'rgba(0,128,128,0.92)','rgba(30,144,255,0.92)','rgb(220,20,60)'];

const px = v => v / W;
const py = v => 1 - v / H;

const traces = [];
const layout = {
  width: W, height: H, margin: {l:0, r:0, t:0, b:0},
  paper_bgcolor: '#ffffff', plot_bgcolor: '#ffffff',
  showlegend: false, font: {family: FONT, color: TXT},
  shapes: [], annotations: []
};

panelLetters.forEach((P, i) => {
  const s = i === 0 ? '' : String(i + 1);
  const [l, r, t, b, yAp, yAv, yBp, yBv, x0p, x2p] = GEOM[P];
  const vpp = (yBv - yAv) / (yBp - yAp);
  const yTop = yAv + (t - yAp) * vpp, yBot = yAv + (b - yAp) * vpp;
  const epp = 2000 / (x2p - x0p);
  const xL = (l - x0p) * epp, xR = (r - x0p) * epp;

  const names = seriesNames.concat(['Autoloss-' + P]);
  SERIES[P].forEach((arr, j) => {
    traces.push({
      type: 'scatter', mode: 'lines', name: names[j],
      x: arr.length === epochsDense.length ? epochsDense : epochs, y: arr,
      xaxis: 'x' + s, yaxis: 'y' + s,
      line: {color: COLORS[j], width: j === 6 ? 1.6 : 1.4, simplify: false},
      hoverinfo: 'skip', showlegend: false
    });
  });

  const common = {
    showgrid: true, gridcolor: '#dcdcdc', gridwidth: 1.2,
    showline: true, mirror: true, linecolor: '#cfcfcf', linewidth: 1.6,
    zeroline: false, ticks: '', fixedrange: true, automargin: false,
    tickfont: {family: FONT, size: 10.5, color: TXT}
  };
  layout['xaxis' + s] = Object.assign({}, common, {
    domain: [px(l), px(r)], range: [xL, xR], anchor: 'y' + s,
    tickvals: xTickVals, ticklabelstandoff: 3,
    title: {text: 'Epoch', font: {family: FONT, size: 12.8, color: TXT}, standoff: 4}
  });
  layout['yaxis' + s] = Object.assign({}, common, {
    domain: [py(b), py(t)], range: [yBot, yTop], anchor: 'x' + s,
    tickvals: Y_TICKS[P], tickformat: Y_FMT[P], ticklabelstandoff: 5,
    title: {text: 'bAcc', font: {family: FONT, size: 12.8, color: TXT}, standoff: 2}
  });

  // legend box (inside lower right)
  const bR = r - 7, bB = b - 6, bL = bR - 130, bT = bB - 113;
  layout.shapes.push({type:'rect', xref:'paper', yref:'paper', x0:px(bL), x1:px(bR), y0:py(bB), y1:py(bT),
    line:{color:'#d8d8d8', width:1}, fillcolor:'rgba(255,255,255,0.85)', layer:'above'});
  names.forEach((nm, j) => {
    const yy = bT + 8.7 + j * 15.85;
    layout.shapes.push({type:'line', xref:'paper', yref:'paper', x0:px(bL + 5), x1:px(bL + 27), y0:py(yy), y1:py(yy),
      line:{color: COLORS[j], width: 1.5}, layer:'above'});
    layout.annotations.push({xref:'paper', yref:'paper', x:px(bL + 35), y:py(yy), text:nm, showarrow:false,
      xanchor:'left', yanchor:'middle', font:{family:FONT, size:10.5, color:TXT}});
  });

  // caption
  layout.annotations.push({xref:'paper', yref:'paper', x:px(CAPTION_X[i % 3]), y:py(CAPTION_Y[Math.floor(i / 3)]),
    text: captions[i], showarrow:false, xanchor:'center', yanchor:'middle',
    font:{family:SERIF, size:23, color:'#000000'}});
});

Plotly.newPlot('chart', traces, layout, {staticPlot: true, displayModeBar: false});
</script>
</body></html>
